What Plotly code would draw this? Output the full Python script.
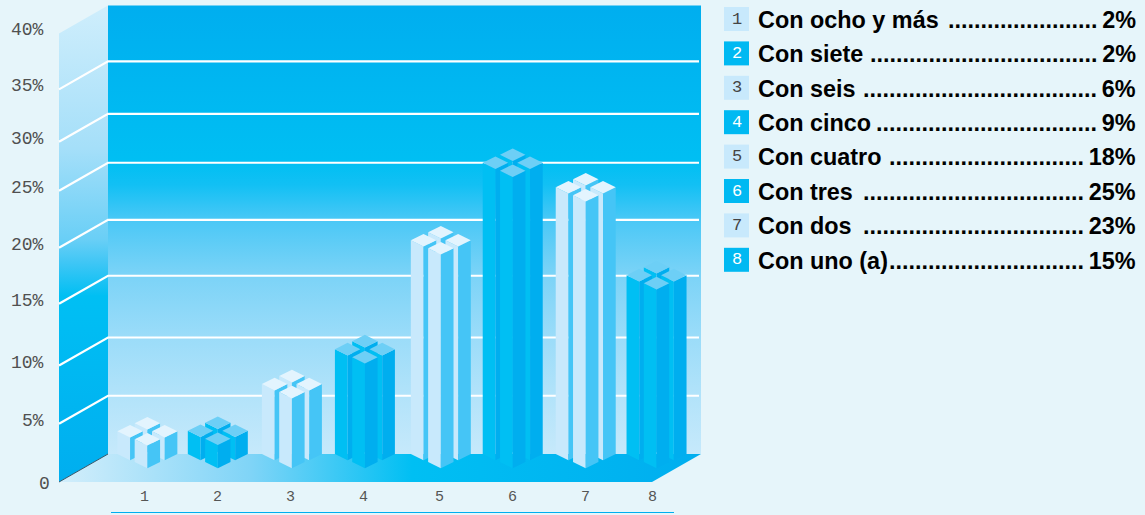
import plotly.graph_objects as go

# ---- data ----
categories = ["1", "2", "3", "4", "5", "6", "7", "8"]
values = [2, 2, 6, 9, 18, 25, 23, 15]
bar_heights = [1.95, 2, 6, 9, 18.35, 25, 22.9, 15.35]
legend_names = ["Con ocho y más", "Con siete", "Con seis", "Con cinco",
                "Con cuatro", "Con tres", "Con dos", "Con uno (a)"]
legend_values = ["2%", "2%", "6%", "9%", "18%", "25%", "23%", "15%"]
legend_dots = [23, 35, 36, 34, 30, 34, 34, 30]
tick_labels = ["5%", "10%", "15%", "20%", "25%", "30%", "35%", "40%"]
grid_levels = [5, 10, 15.3, 20.1, 25, 29.2, 33.7, 38.5]
bar_slots = [1.005, 1.97, 2.985, 3.985, 5.025, 6.01, 7.01, 7.98]
label_slots = [0.96, 1.96, 2.96, 3.96, 5.0, 6.0, 7.0, 7.93]

# ---- scale: whole figure is the plot area ----
W, H = 1145, 515
PX_PER_CAT, PX_CAT1 = 73.0, 147.0
PX_PER_UNIT, PX_ZERO = 11.65, 454.0


def cx(px):
    return 1 + (px - PX_CAT1) / PX_PER_CAT


def vy(px):
    return (PX_ZERO - px) / PX_PER_UNIT


DEPTH_X = 49 / PX_PER_CAT
DEPTH_Y = 28 / PX_PER_UNIT
BACK_L, BACK_R = cx(108), cx(701)
TOP = grid_levels[-1]

BG = "#e6f5fa"
fig = go.Figure()


def poly(xs, ys, color=None, gradient=None):
    kw = dict(fillgradient=gradient) if gradient else dict(fillcolor=color)
    fig.add_trace(go.Scatter(x=list(xs) + [xs[0]], y=list(ys) + [ys[0]], mode="lines",
                             line=dict(width=0), fill="toself", hoverinfo="skip",
                             showlegend=False, **kw))


def line(xs, ys, color, width):
    fig.add_trace(go.Scatter(x=xs, y=ys, mode="lines", line=dict(color=color, width=width),
                             hoverinfo="skip", showlegend=False))


# back wall (0 = bottom, 1 = top of region)
poly([BACK_L, BACK_R, BACK_R, BACK_L], [0, 0, TOP, TOP], gradient=dict(
    type="vertical",
    colorscale=[[0, "#c6e9fb"], [0.13, "#b2e3fa"], [0.26, "#9bdcf9"], [0.40, "#7bd3f7"],
                [0.52, "#4bc8f6"], [0.60, "#12c0f4"], [0.65, "#00bff3"], [1, "#00aeef"]]))
# left wall
poly([BACK_L - DEPTH_X, BACK_L, BACK_L, BACK_L - DEPTH_X],
     [-DEPTH_Y, 0, TOP, TOP - DEPTH_Y], gradient=dict(
    type="vertical",
    colorscale=[[0, "#00aeef"], [0.32, "#00bcf3"], [0.39, "#00bff3"], [0.46, "#3fc6f5"],
                [0.51, "#6acff6"], [0.70, "#a5dff9"], [1, "#cfeefc"]]))
# floor
poly([BACK_L - DEPTH_X, BACK_L, BACK_R, BACK_R - DEPTH_X],
     [-DEPTH_Y, 0, 0, -DEPTH_Y], gradient=dict(
    type="horizontal",
    colorscale=[[0, "#d3eefb"], [0.3, "#7fd4f7"], [0.55, "#00bff3"], [1, "#00aeef"]]))
line([BACK_L - DEPTH_X, BACK_L], [-DEPTH_Y, 0], "#33566a", 1)

# grid lines
for lv in grid_levels[:-1]:
    line([BACK_L - DEPTH_X, BACK_L, cx(699)], [lv - DEPTH_Y, lv, lv], "#ffffff", 2.2)

# bars: four posts in a cross
HW = 12.7 / PX_PER_CAT
HD = 6.3 / PX_PER_UNIT
SIDE = 17.3 / PX_PER_CAT
FB = 8 / PX_PER_UNIT
LIGHT = ("#c8e9fc", "#45c5f6", "#e3f4fe")
DARK = ("#00bff3", "#00aeef", "#6dcff6")


def post(x, base, top, pal):
    left, right, lid = pal
    poly([x - HW, x, x, x - HW], [base, base - HD, top - HD, top], left)
    poly([x, x + HW, x + HW, x], [base - HD, base, top, top - HD], right)
    poly([x - HW, x, x + HW, x], [top, top + HD, top, top - HD], lid)


for i, v in enumerate(bar_heights):
    c = bar_slots[i]
    pal = LIGHT if i % 2 == 0 else DARK
    post(c, FB, v + FB, pal)           # back
    post(c - SIDE, 0, v, pal)          # left
    post(c + SIDE, 0, v, pal)          # right
    post(c, -FB, v - FB, pal)          # front

# texts
ann = []
MONO = "Liberation Mono"
for lab, lv in zip(tick_labels, grid_levels):
    ann.append(dict(x=cx(46), y=lv - DEPTH_Y, text=lab, xanchor="right", yanchor="middle",
                    yshift=3, showarrow=False, font=dict(family=MONO, size=18, color="#505050")))
ann.append(dict(x=cx(44), y=-DEPTH_Y, text="0", xanchor="center", yanchor="middle", yshift=-2,
                showarrow=False, font=dict(family=MONO, size=18, color="#505050")))
for c, pos in zip(categories, label_slots):
    ann.append(dict(x=pos, y=vy(497), text=c, xanchor="center", yanchor="middle",
                    showarrow=False, font=dict(family=MONO, size=15, color="#555555")))

shapes = [dict(type="line", xref="x", yref="y", x0=cx(111), x1=cx(674), y0=vy(512.5), y1=vy(512.5),
               line=dict(color="#00aeef", width=1.2))]

ROW0, ROW_STEP = 19.0, 34.4
BOLD = "Liberation Sans"
for i, (name, val, nd) in enumerate(zip(legend_names, legend_values, legend_dots)):
    yc = ROW0 + ROW_STEP * i
    light = i % 2 == 0
    shapes.append(dict(type="rect", xref="x", yref="y", x0=cx(724), x1=cx(749),
                       y0=vy(yc - 12), y1=vy(yc + 12), line=dict(width=0),
                       fillcolor="#c8e9fc" if light else "#00b9f2"))
    ann.append(dict(x=cx(737), y=vy(yc), text=str(i + 1), xanchor="center", yanchor="middle",
                    showarrow=False,
                    font=dict(family=MONO, size=17, color="#444444" if light else "#ffffff")))
    ann.append(dict(x=cx(756), y=vy(yc + 0.7), text=name, xanchor="left", yanchor="middle", showarrow=False,
                    font=dict(family=BOLD, size=23.4, color="#000000", weight="bold")))
    ann.append(dict(x=cx(1138), y=vy(yc + 0.7), text="." * nd + "\u2009" + val, xanchor="right", yanchor="middle",
                    showarrow=False, font=dict(family=BOLD, size=23.4, color="#000000", weight="bold")))

fig.update_layout(
    width=W, height=H, autosize=False, margin=dict(l=0, r=0, t=0, b=0, pad=0),
    paper_bgcolor=BG, plot_bgcolor=BG, showlegend=False, annotations=ann, shapes=shapes,
    xaxis=dict(range=[cx(0), cx(W)], visible=False, fixedrange=True),
    yaxis=dict(range=[vy(H), vy(0)], visible=False, fixedrange=True),
)
fig.write_html("out.html", config=dict(displayModeBar=False),
               post_script="document.body.style.margin='0';document.body.style.background='%s';" % BG)
